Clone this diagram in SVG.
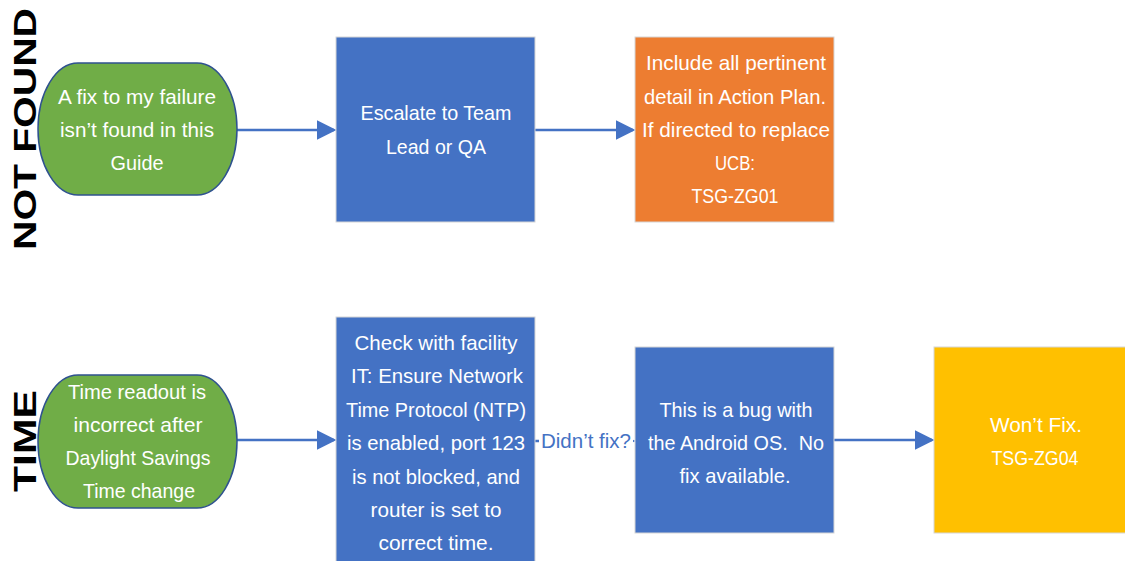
<svg xmlns="http://www.w3.org/2000/svg" width="1125" height="561" viewBox="0 0 1125 561">
<defs>
<style>
.t{font-family:"Liberation Sans",Arial,sans-serif;font-size:21px;fill:#ffffff;text-anchor:middle}
.lbl{font-family:"Liberation Sans",Arial,sans-serif;font-size:21px;fill:#4472C4;text-anchor:middle}
.side{font-family:"Liberation Sans",Arial,sans-serif;font-size:31px;font-weight:bold;fill:#000;text-anchor:middle}
.term{fill:#70AD47;stroke:#2F528F;stroke-width:1.5}
.box{stroke:#D6D6D6;stroke-width:1}
.blue{fill:#4472C4}
.orange{fill:#ED7D31}
.yellow{fill:#FFC000}
.conn{stroke:#4472C4;stroke-width:2.5;fill:none}
</style>
<marker id="ah" markerWidth="8" markerHeight="8" refX="7" refY="4" orient="auto" markerUnits="strokeWidth" viewBox="0 0 8 8">
<path d="M0,0 L8,4 L0,8 Z" fill="#4472C4"/>
</marker>
</defs>
<rect width="1125" height="561" fill="#ffffff"/>

<g id="label-notfound">
<text class="side" transform="translate(36,129) rotate(-90)" textLength="242" lengthAdjust="spacingAndGlyphs">NOT FOUND</text>
</g>
<g id="label-time">
<text class="side" transform="translate(36,441) rotate(-90)" textLength="102" lengthAdjust="spacingAndGlyphs">TIME</text>
</g>

<g id="connectors">
<line class="conn" x1="237" y1="130" x2="334" y2="130" marker-end="url(#ah)"/>
<line class="conn" x1="535" y1="130" x2="633" y2="130" marker-end="url(#ah)"/>
<line class="conn" x1="237" y1="440" x2="334" y2="440" marker-end="url(#ah)"/>
<line class="conn" x1="535" y1="441" x2="633" y2="441" marker-end="url(#ah)"/>
<line class="conn" x1="834" y1="440" x2="932" y2="440" marker-end="url(#ah)"/>
<rect x="539" y="426" width="94" height="30" fill="#ffffff"/>
<text class="lbl" x="586" y="448" textLength="90" lengthAdjust="spacingAndGlyphs">Didn’t fix?</text>
</g>

<g id="n1">
<rect class="term" x="38" y="63" width="199" height="132" rx="40" ry="66"/>
<text class="t" x="137" y="104" textLength="158" lengthAdjust="spacingAndGlyphs">A fix to my failure</text>
<text class="t" x="137" y="137" textLength="154" lengthAdjust="spacingAndGlyphs">isn’t found in this</text>
<text class="t" x="137" y="170" textLength="53" lengthAdjust="spacingAndGlyphs">Guide</text>
</g>

<g id="n2">
<rect class="box blue" x="336" y="37" width="199" height="185"/>
<text class="t" x="436" y="120" textLength="151" lengthAdjust="spacingAndGlyphs">Escalate to Team</text>
<text class="t" x="436" y="154" textLength="100" lengthAdjust="spacingAndGlyphs">Lead or QA</text>
</g>

<g id="n3">
<rect class="box orange" x="635" y="37" width="199" height="185"/>
<text class="t" x="736" y="70" textLength="180" lengthAdjust="spacingAndGlyphs">Include all pertinent</text>
<text class="t" x="735" y="104" textLength="182" lengthAdjust="spacingAndGlyphs">detail in Action Plan.</text>
<text class="t" x="736" y="137" textLength="188" lengthAdjust="spacingAndGlyphs">If directed to replace</text>
<text class="t" x="735" y="170" textLength="40" lengthAdjust="spacingAndGlyphs">UCB:</text>
<text class="t" x="735" y="203" textLength="87" lengthAdjust="spacingAndGlyphs">TSG-ZG01</text>
</g>

<g id="n4">
<rect class="term" x="38" y="375" width="199" height="133" rx="40" ry="66.5"/>
<text class="t" x="137" y="399" textLength="138" lengthAdjust="spacingAndGlyphs">Time readout is</text>
<text class="t" x="138" y="432" textLength="129" lengthAdjust="spacingAndGlyphs">incorrect after</text>
<text class="t" x="138" y="465" textLength="145" lengthAdjust="spacingAndGlyphs">Daylight Savings</text>
<text class="t" x="139" y="498" textLength="112" lengthAdjust="spacingAndGlyphs">Time change</text>
</g>

<g id="n5">
<rect class="box blue" x="336" y="317" width="199" height="250"/>
<text class="t" x="436" y="350" textLength="163" lengthAdjust="spacingAndGlyphs">Check with facility</text>
<text class="t" x="437" y="383" textLength="172" lengthAdjust="spacingAndGlyphs">IT: Ensure Network</text>
<text class="t" x="436" y="417" textLength="180" lengthAdjust="spacingAndGlyphs">Time Protocol (NTP)</text>
<text class="t" x="436" y="450" textLength="178" lengthAdjust="spacingAndGlyphs">is enabled, port 123</text>
<text class="t" x="436" y="484" textLength="168" lengthAdjust="spacingAndGlyphs">is not blocked, and</text>
<text class="t" x="436" y="517" textLength="131" lengthAdjust="spacingAndGlyphs">router is set to</text>
<text class="t" x="436" y="550" textLength="115" lengthAdjust="spacingAndGlyphs">correct time.</text>
</g>

<g id="n6">
<rect class="box blue" x="635" y="347" width="199" height="186"/>
<text class="t" x="736" y="417" textLength="153" lengthAdjust="spacingAndGlyphs">This is a bug with</text>
<text class="t" x="736" y="450" textLength="176" lengthAdjust="spacingAndGlyphs">the Android OS.&#160; No</text>
<text class="t" x="735" y="483" textLength="111" lengthAdjust="spacingAndGlyphs">fix available.</text>
</g>

<g id="n7">
<rect class="box yellow" x="934" y="347" width="199" height="186"/>
<text class="t" x="1036" y="432" textLength="92" lengthAdjust="spacingAndGlyphs">Won’t Fix.</text>
<text class="t" x="1035" y="465" textLength="87" lengthAdjust="spacingAndGlyphs">TSG-ZG04</text>
</g>
</svg>
